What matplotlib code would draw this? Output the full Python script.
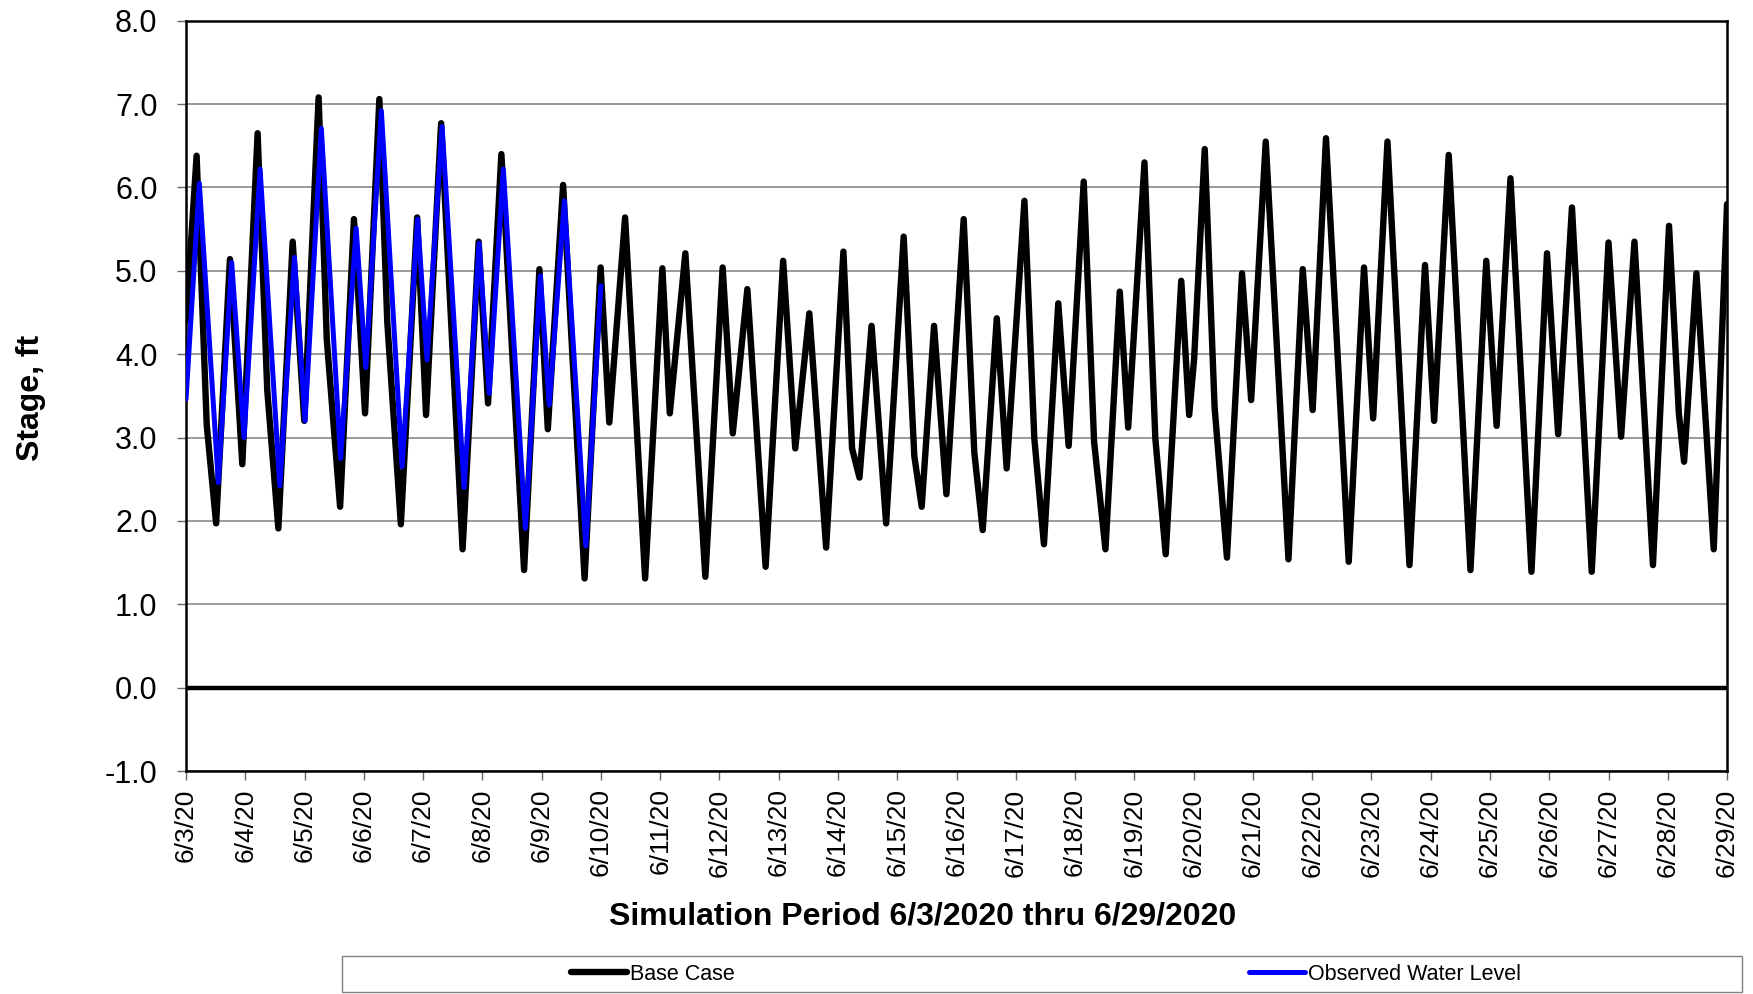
import matplotlib
matplotlib.use("Agg")
import matplotlib.pyplot as plt
from matplotlib.patches import Rectangle
import pandas as pd

plt.rcParams['font.family'] = ['Liberation Sans', 'DejaVu Sans']

START = pd.Timestamp('2020-06-03')
END = pd.Timestamp('2020-06-29')

# Base Case: turning points and shoulders,
# hours after 6/3/2020 00:00
base_hours = [0, 4.3, 8.4, 12.2, 17.8, 22.8, 29.0, 32.9, 37.4, 43.2, 47.9, 53.7, 57.0, 62.4,
              68.0, 72.5, 78.3, 81.5, 87.0, 93.6, 97.2, 103.3, 112.0, 118.5, 122.3, 127.7,
              136.9, 143.1, 146.5, 152.7, 161.4, 167.9, 171.4, 177.8, 185.9, 192.9, 195.9,
              202.2, 210.3, 217.3, 221.4, 227.3, 234.7, 241.8, 246.7, 252.4, 259.2, 266.2,
              269.7, 272.7, 277.6, 283.5, 290.6, 294.9, 297.9, 302.9, 307.9, 314.9, 319.2,
              322.6, 328.3, 332.3, 339.5, 343.5, 347.4, 353.2, 357.4, 363.5, 367.7, 372.3,
              378.1, 381.5, 388.1, 392.5, 396.7, 403.0, 406.2, 408.2, 412.5, 416.5, 421.5,
              427.6, 431.3, 437.2, 446.4, 452.2, 456.2, 461.6, 470.8, 477.0, 480.7, 486.5,
              495.4, 501.7, 505.4, 511.3, 520.1, 526.5, 530.7, 536.3, 544.8, 551.1, 555.6,
              561.2, 569.2, 576.0, 581.1, 586.5, 594.0, 600.5, 604.5, 606.6, 611.6, 618.6,
              624.0]
base_stage = [4.4, 6.38, 3.15, 1.97, 5.14, 2.68, 6.65, 3.57, 1.91, 5.35, 3.2, 7.08, 4.18, 2.17,
              5.62, 3.29, 7.06, 4.39, 1.96, 5.64, 3.27, 6.77, 1.66, 5.35, 3.41, 6.4,
              1.41, 5.02, 3.1, 6.03, 1.31, 5.04, 3.18, 5.64, 1.31, 5.03, 3.29,
              5.21, 1.33, 5.04, 3.05, 4.78, 1.45, 5.12, 2.87, 4.49, 1.68, 5.23,
              2.87, 2.52, 4.34, 1.97, 5.41, 2.78, 2.17, 4.34, 2.32, 5.62, 2.82,
              1.89, 4.43, 2.63, 5.84, 2.99, 1.72, 4.61, 2.9, 6.07, 2.95, 1.66,
              4.75, 3.12, 6.3, 2.99, 1.6, 4.88, 3.27, 3.94, 6.46, 3.36, 1.56,
              4.97, 3.45, 6.55, 1.54, 5.02, 3.33, 6.59, 1.51, 5.04, 3.23, 6.55,
              1.47, 5.07, 3.2, 6.39, 1.41, 5.12, 3.14, 6.11, 1.39, 5.21, 3.04,
              5.76, 1.39, 5.34, 3.01, 5.35, 1.47, 5.54, 3.28, 2.71, 4.97, 1.66,
              5.8]

# Observed Water Level: turning points, hours after 6/3/2020 00:00
obs_hours = [0, 5.4, 13.1, 18.5, 23.5, 30.0, 38.0, 43.9, 48.2, 54.8, 62.6, 68.9, 72.8, 79.1,
             87.5, 93.8, 97.6, 103.7, 112.6, 118.7, 122.8, 128.5, 137.4, 143.5, 147.1, 153.2,
             161.9, 168.0]
obs_stage = [3.46, 6.05, 2.46, 5.1, 3.0, 6.22, 2.42, 5.16, 3.2, 6.71, 2.75, 5.51, 3.84, 6.92,
             2.65, 5.62, 3.93, 6.73, 2.4, 5.33, 3.53, 6.22, 1.91, 4.94, 3.39, 5.84,
             1.7, 4.82]

x_label = 'Simulation Period 6/3/2020 thru 6/29/2020'
y_label = 'Stage, ft'
series_names = ['Base Case', 'Observed Water Level']

base_time = START + pd.to_timedelta(base_hours, unit='h')
obs_time = START + pd.to_timedelta(obs_hours, unit='h')
days = pd.date_range(START, END, freq='D')
day_labels = [f"{d.month}/{d.day}/{d.year % 100}" for d in days]

fig = plt.figure(figsize=(17.53, 9.94), dpi=100)
ax = fig.add_axes([0.1061, 0.2243, 0.8791, 0.7549])

base_line, = ax.plot(base_time, base_stage, color='black', lw=4.6,
                     solid_joinstyle='round', solid_capstyle='round', zorder=3)
obs_line, = ax.plot(obs_time, obs_stage, color='#0000ff', lw=3.6,
                    solid_joinstyle='round', solid_capstyle='round', zorder=4)
ax.axhline(0, color='black', lw=3.2, zorder=2)

ax.set_xlim(START, END)
ax.set_ylim(-1, 8)
ax.set_yticks(range(-1, 9))
ax.set_yticklabels([f"{v:.1f}" for v in range(-1, 9)], fontsize=22)
ax.set_xticks(days)
ax.set_xticklabels(day_labels, rotation=90, fontsize=19)
ax.yaxis.grid(True, color='#808080', lw=1.1)
ax.set_axisbelow(True)
ax.tick_params(axis='y', direction='out', length=6.5, width=1.0, color='#666666', pad=14)
ax.tick_params(axis='x', direction='out', length=6.5, width=1.0, color='#666666', pad=6)
for sp in ax.spines.values():
    sp.set_linewidth(1.8)
    sp.set_color('black')

fig.text(0.5265, 0.0775, x_label, ha='center', va='center', fontsize=23, fontweight='bold')
fig.text(0.0177, 0.5996, y_label, ha='center', va='center', rotation=90,
         fontsize=23, fontweight='bold')

# legend box along the bottom
fig.add_artist(Rectangle((0.1951, 0.002), 0.7986, 0.0362, transform=fig.transFigure,
                         facecolor='white', edgecolor='#808080', lw=1.0))
for handle, name, xpos in [(base_line, series_names[0], 0.3257),
                           (obs_line, series_names[1], 0.7125)]:
    fig.legend([handle], [name], loc='center left', bbox_to_anchor=(xpos, 0.0201),
               frameon=False, fontsize=15.5, handlelength=2.6, handletextpad=0.15,
               borderpad=0, borderaxespad=0)

fig.savefig('out.png', dpi=100)
